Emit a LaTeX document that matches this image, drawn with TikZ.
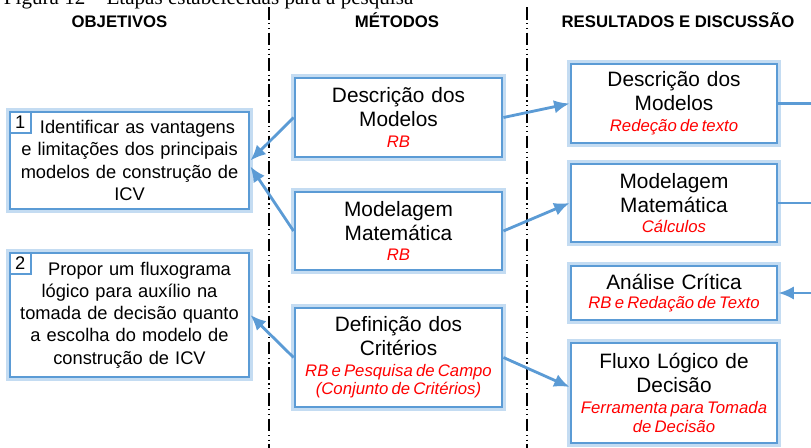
\documentclass[tikz,border=0pt]{standalone}
\usepackage{fontspec}
\setmainfont{Liberation Sans}
\newfontfamily\capfont{Liberation Serif}
\usepackage{tikz}
\usetikzlibrary{arrows.meta}
\definecolor{boxblue}{RGB}{91,155,213}
\definecolor{glowblue}{RGB}{196,220,242}
\definecolor{txtred}{RGB}{255,0,0}
\newcommand{\rb}[1]{{\color{txtred}\fontsize{11.9}{13}\itshape\selectfont\spaceskip=0.19em #1}}

\begin{document}
\begin{tikzpicture}[x=0.025cm,y=-0.025cm,>={Latex[length=11pt,width=9.5pt]},
  caixa/.style={draw=boxblue,line width=2pt,fill=white,preaction={draw=glowblue,line width=5pt},inner sep=0pt,align=center},
  objbox/.style={caixa,text width=5.7cm,minimum width=5.975cm,font=\fontsize{13}{15.8}\selectfont},
  metbox/.style={caixa,text width=5cm,minimum width=5.175cm,font=\fontsize{14.8}{17}\selectfont},
  resbox/.style={caixa,text width=5cm,minimum width=5.15cm,font=\fontsize{14.8}{17}\selectfont},
  numbox/.style={draw=boxblue,line width=1.5pt,fill=white,inner sep=0pt,minimum size=0.525cm,anchor=north west,font=\fontsize{13}{15}\selectfont},
  titulo/.style={font=\bfseries\fontsize{11.9}{14}\selectfont,anchor=base},
  seta/.style={draw=boxblue,line width=2pt},
  divisa/.style={line width=0.9pt,dash pattern=on 9pt off 2.5pt on 0.9pt off 2.5pt on 0.9pt off 2.5pt}]
\useasboundingbox[fill=white] (0,0) rectangle (811,448);
\node[anchor=base west,font=\capfont\fontsize{15}{18}\selectfont] (legenda) at (-1,4.5) {Figura 12 – Etapas estabelecidas para a pesquisa};
\node[titulo] (tobj) at (119.5,27) {OBJETIVOS};
\node[titulo] (tmet) at (397,27) {MÉTODOS};
\node[titulo] (tres) at (678,27) {RESULTADOS E DISCUSSÃO};
\draw[divisa] (269,7) -- (269,448);
\draw[divisa] (527,7) -- (527,448);

\node[objbox,minimum height=2.425cm] (obj1) at (129.5,160.5) {\hspace*{0.4cm}Identificar as vantagens\\ e limitações dos principais\\ modelos de construção de\\ ICV};
\node[numbox] (n1) at (obj1.north west) {1};
\node[objbox,minimum height=3.1cm] (obj2) at (129.5,315) {\hspace*{0.5cm}Propor um fluxograma\\ lógico para auxílio na\\ tomada de decisão quanto\\ a escolha do modelo de\\ construção de ICV};
\node[numbox] (n2) at (obj2.north west) {2};

\node[metbox,minimum height=1.975cm] (metA) at (398.5,117.5) {Descrição dos\\ Modelos\\[-2pt] \rb{RB}};
\node[metbox,minimum height=1.95cm] (metB) at (398.5,231) {Modelagem\\ Matemática\\[-3pt] \rb{RB}};
\node[metbox,minimum height=2.475cm] (metC) at (398.5,357.5) {Definição dos\\ Critérios\\[-2pt] \rb{RB e Pesquisa de Campo}\\[-4pt] \rb{(Conjunto de Critérios)}};

\node[resbox,minimum height=1.975cm] (resD) at (674,103.5) {Descrição dos\\ Modelos\\[-2pt] \rb{Redeção de texto}};
\node[resbox,minimum height=1.95cm] (resE) at (674,203) {Modelagem\\ Matemática\\[-3pt] \rb{Cálculos}};
\node[resbox,minimum height=1.35cm] (resF) at (674,293) {Análise Crítica\\[-3pt] \rb{RB e Redação de Texto}};
\node[resbox,minimum height=2.5cm] (resG) at (674,393) {Fluxo Lógico de\\ Decisão\\[-2pt] \rb{Ferramenta para Tomada}\\[-4pt] \rb{de Decisão}};

\coordinate (saidaD) at (811,103.5);
\coordinate (saidaE) at (811,203);
\coordinate (entradaF) at (811,293);

\draw[seta,->] (metA.west) -- (obj1.east);
\draw[seta,->] (metB.west) -- ([yshift=-0.15cm]obj1.east);
\draw[seta,->] (metC.west) -- (obj2.east);
\draw[seta,->] (metA.east) -- (resD.west);
\draw[seta,->] (metB.east) -- (resE.west);
\draw[seta,->] (metC.east) -- ([yshift=0.15cm]resG.west);
\draw[seta] (resD.east) -- (saidaD);
\draw[seta] (resE.east) -- (saidaE);
\draw[seta,->] (entradaF) -- (resF.east);
\end{tikzpicture}
\end{document}
